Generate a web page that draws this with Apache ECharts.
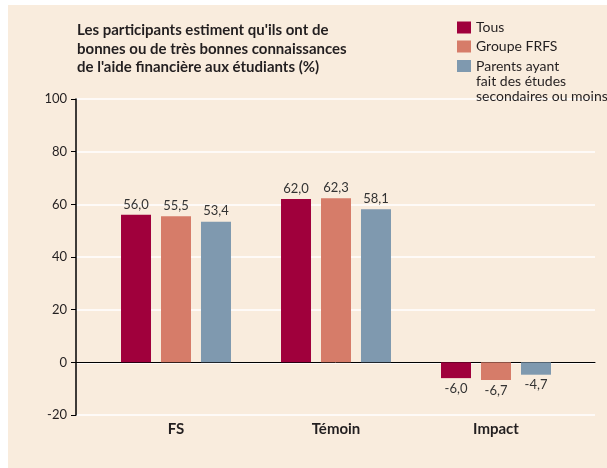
<!DOCTYPE html>
<html>
<head>
<meta charset="utf-8">
<script src="https://cdn.jsdelivr.net/npm/echarts@6/dist/echarts.min.js"></script>
<style>
  html, body { margin: 0; padding: 0; background: #fff; }
  #chart { position: absolute; left: 8px; top: 5px; width: 599px; height: 463px; background: #f9ecdd; }
</style>
</head>
<body>
<div id="chart"></div>
<script>
// données
const categories = ['FS', 'Témoin', 'Impact']
const tous = [56.0, 62.0, -6.0]
const groupeFRFS = [55.5, 62.3, -6.7]
const parents = [53.4, 58.1, -4.7]
const yTicks = [-20, 0, 20, 40, 60, 80, 100]

const seriesNames = ['Tous', 'Groupe FRFS', 'Parents ayant\nfait des études\nsecondaires ou moins']
const colors = ['#a0003c', '#d67c69', '#7f99af']

const chart = echarts.init(document.getElementById('chart'))

const fmt = (v) => v.toFixed(1).replace('.', ',')

const makeSeries = (name, values, color) => ({
  name: name,
  type: 'bar',
  xAxisIndex: 1,
  yAxisIndex: 1,
  barWidth: 30,
  barGap: '33.3%',
  itemStyle: { color: color },
  label: {
    show: true,
    position: 'top',
    distance: 4,
    fontFamily: 'Lato',
    fontSize: 13,
    color: '#333',
    formatter: (p) => fmt(p.value)
  },
  data: values.map(v => v < 0 ? { value: v, label: { position: 'bottom' } } : v)
})

const legendText = { fontFamily: 'Lato', fontSize: 14, lineHeight: 15, color: '#231f20' }

const option = {
  animation: false,
  textStyle: { fontFamily: 'Lato' },
  title: {
    text: "Les participants estiment qu'ils ont de\nbonnes ou de très bonnes connaissances\nde l'aide financière aux étudiants (%)",
    left: 69,
    top: 16,
    padding: 0,
    textStyle: { fontFamily: 'Lato', fontWeight: 'bold', fontSize: 15, lineHeight: 18.5, color: '#231f20' }
  },
  legend: [{
    data: [seriesNames[0], seriesNames[1]],
    orient: 'vertical',
    left: 449,
    top: 15,
    padding: 0,
    itemWidth: 14,
    itemHeight: 12,
    itemGap: 4,
    icon: 'rect',
    textStyle: legendText
  }, {
    // deux lignes vides en tête pour aligner le carré sur la première ligne
    data: [seriesNames[2]],
    orient: 'vertical',
    left: 449,
    top: 23.5,
    padding: 0,
    itemWidth: 14,
    itemHeight: 12,
    icon: 'rect',
    formatter: (name) => '\n\n' + name,
    textStyle: legendText
  }],
  grid: [
    { left: 68, right: 12, top: 94, bottom: 53 },
    { left: 88, right: 31, top: 94, bottom: 53 }
  ],
  xAxis: [{
    gridIndex: 0,
    type: 'category',
    data: [''],
    axisLine: { onZero: true, lineStyle: { color: '#000', width: 1 } },
    axisTick: { show: false },
    axisLabel: { show: false }
  }, {
    gridIndex: 1,
    type: 'category',
    data: categories,
    axisLine: { show: false, onZero: false },
    axisTick: { show: false },
    axisLabel: { margin: 7, fontFamily: 'Lato', fontWeight: 'bold', fontSize: 15, color: '#231f20' }
  }],
  yAxis: [{
    gridIndex: 0,
    type: 'value',
    min: yTicks[0],
    max: yTicks[yTicks.length - 1],
    interval: 20,
    axisLine: { show: true, lineStyle: { color: '#000', width: 1.5 } },
    axisTick: { show: true, length: 5, lineStyle: { color: '#000', width: 1 } },
    axisLabel: { margin: 9, fontFamily: 'Lato', fontSize: 13, color: '#231f20' },
    splitLine: { show: true, lineStyle: { color: '#ffffff', width: 1.5 } }
  }, {
    gridIndex: 1,
    type: 'value',
    min: yTicks[0],
    max: yTicks[yTicks.length - 1],
    interval: 20,
    show: false
  }],
  series: [
    makeSeries(seriesNames[0], tous, colors[0]),
    makeSeries(seriesNames[1], groupeFRFS, colors[1]),
    makeSeries(seriesNames[2], parents, colors[2])
  ]
}

chart.setOption(option)
</script>
</body>
</html>
